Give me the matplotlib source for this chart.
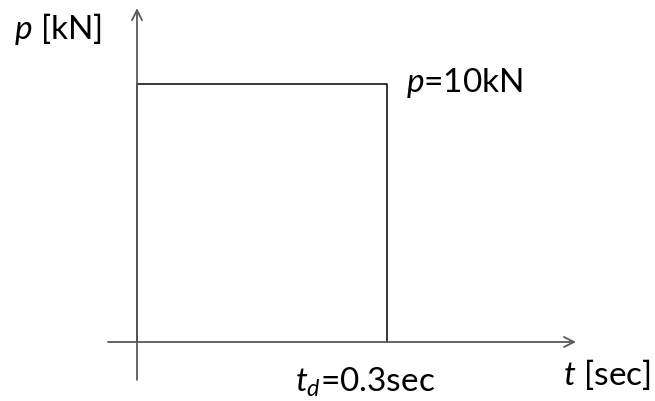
import numpy as np
import matplotlib
matplotlib.use("Agg")
import matplotlib.pyplot as plt

# rectangular pulse load
t_d = 0.3      # sec
p0 = 10.0      # kN
t_pts = [0.0, 0.0, t_d, t_d]
p_pts = [0.0, p0, p0, 0.0]

plt.rcParams['font.family'] = ['Lato', 'DejaVu Sans']
plt.rcParams['mathtext.fontset'] = 'custom'
plt.rcParams['mathtext.rm'] = 'Lato'
plt.rcParams['mathtext.it'] = 'Lato:italic'

fig = plt.figure(figsize=(6.55, 4.02), dpi=100)
ax = fig.add_axes([0, 0, 1, 1])
ax.set_xlim(-0.1644, 0.6216)
ax.set_ylim(-2.287, 13.295)
ax.axis('off')

axcol = '#595959'
# axes with open arrowheads
ax.annotate('', xy=(0.5268, 0), xytext=(-0.0348, 0),
            arrowprops=dict(arrowstyle='->', color=axcol, lw=1.3,
                            mutation_scale=18, shrinkA=0, shrinkB=0))
ax.annotate('', xy=(0, 12.94), xytext=(0, -1.47),
            arrowprops=dict(arrowstyle='->', color=axcol, lw=1.3,
                            mutation_scale=18, shrinkA=0, shrinkB=0))

ax.plot(t_pts, p_pts, color='black', lw=1.1)

fs = 24
ax.text(-0.1476, 11.8, '$p$ [kN]', fontsize=fs, va='baseline', ha='left')
ax.text(0.3228, p0 - 0.27, '$p$=%gkN' % p0, fontsize=fs, va='baseline', ha='left')
ax.text(t_d - 0.1104, -1.9, '$t_d$=%gsec' % t_d, fontsize=fs, va='baseline', ha='left')
ax.text(0.5112, -1.63, '$t$ [sec]', fontsize=fs, va='baseline', ha='left')

fig.savefig('out.png', dpi=100)
